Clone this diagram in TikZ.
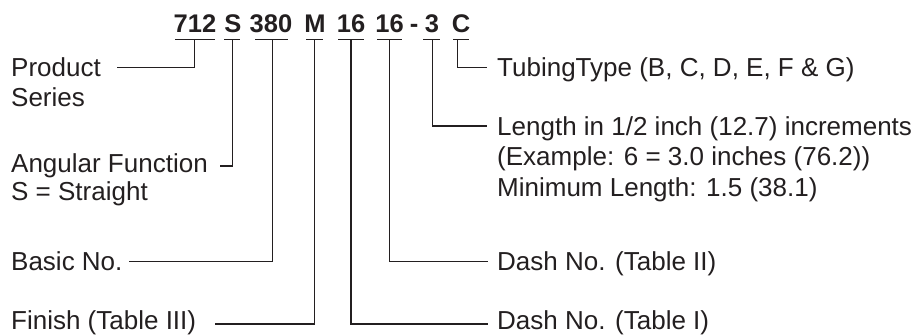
\documentclass[tikz,border=0pt]{standalone}
\usepackage{fontspec}
\setmainfont{Liberation Sans}
\definecolor{ink}{HTML}{231F20}
\begin{document}
\begin{tikzpicture}[x=1pt,y=-1pt,
  code/.style={font=\fontsize{25.5}{30}\selectfont\bfseries, text=ink, inner sep=0pt, anchor=base},
  lbl/.style={font=\fontsize{26}{31}\selectfont, text=ink, inner sep=0pt, anchor=base west},
  bar/.style={draw=ink, line width=1.6pt},
  lead/.style={draw=ink, line width=1.3pt}]
\useasboundingbox (0,0) rectangle (920,335);

% code segments
\node[code] (c712) at (195,32.5) {712};
\node[code] (cS)   at (233,32.5) {S};
\node[code] (c380) at (271,32.5) {380};
\node[code] (cM)   at (315,32.5) {M};
\node[code] (c16a) at (351,32.5) {16};
\node[code] (c16b) at (389.5,32.5) {16};
\node[code] (cdash) at (414,32.5) {-};
\node[code] (c3)   at (432,32.5) {3};
\node[code] (cC)   at (461,32.5) {C};

% underlines
\draw[bar] (175,39.5) -- (215,39.5);
\draw[bar] (224,39.5) -- (240,39.5);
\draw[bar] (255,39.5) -- (288,39.5);
\draw[bar] (306,39.5) -- (323,39.5);
\draw[bar] (338,39.5) -- (364,39.5);
\draw[bar] (377,39.5) -- (402,39.5);
\draw[bar] (423,39.5) -- (440,39.5);
\draw[bar] (453,39.5) -- (469,39.5);

% tops of leaders
\coordinate (t712) at (194.5,39.5);
\coordinate (tS)   at (232.5,39.5);
\coordinate (t380) at (272.5,39.5);
\coordinate (tM)   at (314.5,39.5);
\coordinate (t16a) at (351,39.5);
\coordinate (t16b) at (389.3,39.5);
\coordinate (t3)   at (432.5,39.5);
\coordinate (tC)   at (457.7,39.5);

% ends of leaders
\coordinate (e712) at (117,67.3);
\coordinate (eS)   at (220,166);
\coordinate (e380) at (129,261.5);
\coordinate (eM)   at (215,324);
\coordinate (e16a) at (487.5,324);
\coordinate (e16b) at (487.5,261.5);
\coordinate (e3)   at (486.5,126);
\coordinate (eC)   at (486.5,67.3);

% left labels
\node[lbl] (lprod)  at (11,76) {Product};
\node[lbl] (lser)   at (11,106.5) {Series};
\node[lbl] (lang)   at (11,172.5) {Angular Function};
\node[lbl] (lstr)   at (11,200) {S = Straight};
\node[lbl] (lbasic) at (11,270) {Basic No.};
\node[lbl] (lfin)   at (11,329.5) {Finish (Table III)};

% right labels
\node[lbl] (rtub)  at (497,76) {TubingType (B, C, D, E, F \& G)};
\node[lbl] (rlen)  at (497,135) {Length in 1/2 inch (12.7) increments};
\node[lbl] (rex)   at (497,165.5) {(Example: 6 = 3.0 inches (76.2))};
\node[lbl] (rmin)  at (497,196) {Minimum Length: 1.5 (38.1)};
\node[lbl] (rd2)   at (497,270) {Dash No. (Table II)};
\node[lbl] (rd1)   at (497,329.5) {Dash No. (Table I)};

% leaders
\draw[lead] (t712) |- (e712);
\draw[lead] (tS)   |- (eS);
\draw[lead] (t380) |- (e380);
\draw[lead] (tM)   |- (eM);
\draw[lead] (t16a) |- (e16a);
\draw[lead] (t16b) |- (e16b);
\draw[lead] (t3)   |- (e3);
\draw[lead] (tC)   |- (eC);
\end{tikzpicture}
\end{document}
